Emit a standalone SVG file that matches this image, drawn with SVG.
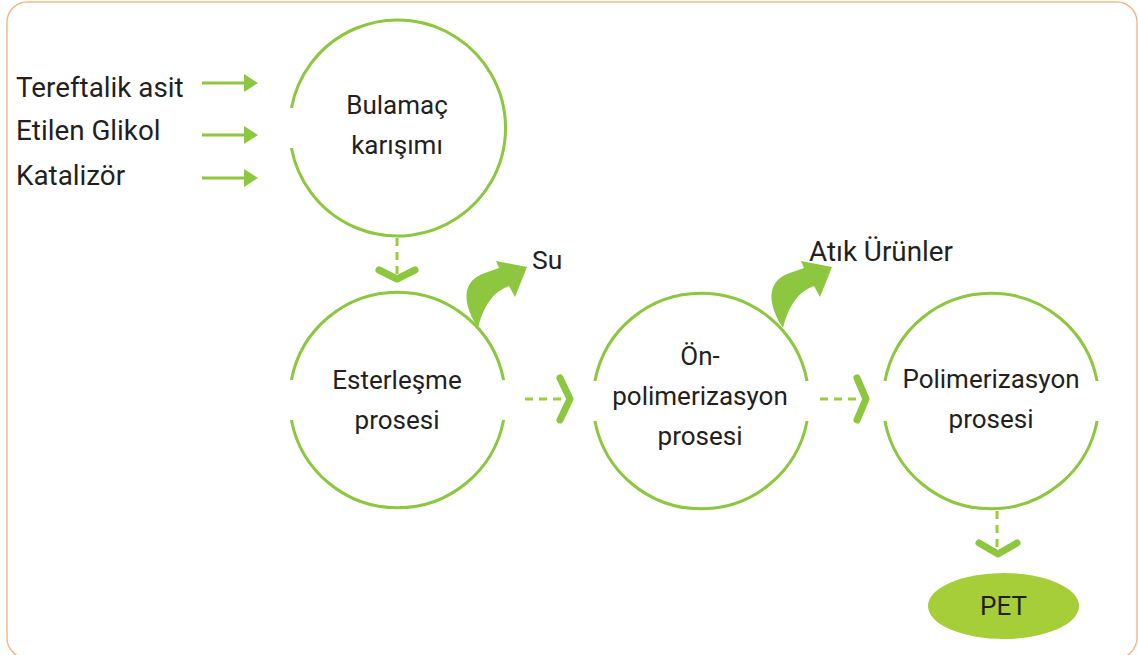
<svg xmlns="http://www.w3.org/2000/svg" xmlns:xlink="http://www.w3.org/1999/xlink" width="1138" height="655" viewBox="0 0 1138 655">
<style>
.t{font-family:Roboto,"Liberation Sans",sans-serif;fill:#231F20;}
.c{font-size:26px;text-anchor:middle;}
.l{font-size:27.8px;}
.ring{fill:none;stroke:#8DC63F;stroke-width:3;}
.dash{fill:none;stroke:#9CCB3B;stroke-width:3;stroke-dasharray:8 6;}
.chev{fill:none;stroke:#8DC63F;stroke-width:7;stroke-linecap:round;stroke-linejoin:round;}
.in{fill:none;stroke:#8DC63F;stroke-width:3;}
.blk{fill:#8DC63F;}
</style>
<defs>
<path id="bend" d="M478 328 C463 305 461 283 482 274 L499 268 L496 261 L527 267 L515 297 L509 286 C493 292 484 305 478 328 Z"/>
<marker id="ah" markerWidth="14" markerHeight="18" refX="1" refY="9" orient="auto" markerUnits="userSpaceOnUse">
<path d="M0 0 L14 9 L0 18 Z" fill="#8DC63F"/>
</marker>
</defs>
<rect x="7" y="2" width="1130" height="656" rx="20" ry="20" fill="#FFFFFF" stroke="#F8B98B" stroke-width="1.5"/>

<g id="inputs">
<text class="t l" x="16" y="97">Tereftalik asit</text>
<text class="t l" x="16" y="140">Etilen Glikol</text>
<text class="t l" x="16" y="185">Katalizör</text>
</g>

<g id="connectors">
<line class="in" x1="202" y1="83" x2="245" y2="83" marker-end="url(#ah)"/>
<line class="in" x1="202" y1="135" x2="245" y2="135" marker-end="url(#ah)"/>
<line class="in" x1="202" y1="178" x2="245" y2="178" marker-end="url(#ah)"/>
<line class="dash" x1="397" y1="238" x2="397" y2="276"/>
<polyline class="chev" points="379,270 397,279 415,270"/>
<line class="dash" x1="525" y1="399" x2="567" y2="399"/>
<polyline class="chev" points="560,378 570,399 560,420"/>
<line class="dash" x1="820" y1="399" x2="862" y2="399"/>
<polyline class="chev" points="857,378 866,399 857,420"/>
<line class="dash" x1="997" y1="511" x2="997" y2="549"/>
<polyline class="chev" points="979,543 998,554 1017,543"/>
</g>

<g id="bulamac">
<path class="ring" d="M291.4 108 A108 108 0 1 1 291.4 148"/>
<text class="t c" x="397" y="114">Bulamaç</text>
<text class="t c" x="397" y="154">karışımı</text>
</g>

<g id="esterlesme">
<path class="ring" d="M291.4 380 A108 108 0 0 1 503.6 380 M503.6 420 A108 108 0 0 1 291.4 420"/>
<text class="t c" x="397" y="389">Esterleşme</text>
<text class="t c" x="397" y="429">prosesi</text>
</g>

<g id="su">
<use xlink:href="#bend" class="blk"/>
<text class="t" x="532" y="269" font-size="26.5">Su</text>
</g>

<g id="onpolimerizasyon">
<path class="ring" d="M594.9 381 A108 108 0 0 1 807.1 381 M807.1 421 A108 108 0 0 1 594.9 421"/>
<text class="t c" x="700" y="365">Ön-</text>
<text class="t c" x="700" y="405">polimerizasyon</text>
<text class="t c" x="700" y="445">prosesi</text>
</g>

<g id="atik">
<use xlink:href="#bend" class="blk" transform="translate(305 0)"/>
<text class="t" x="809" y="261" font-size="27.8">Atık Ürünler</text>
</g>

<g id="polimerizasyon">
<path class="ring" d="M884.9 381 A108 108 0 0 1 1097.1 381 M1097.1 421 A108 108 0 0 1 884.9 421"/>
<text class="t c" x="991" y="388">Polimerizasyon</text>
<text class="t c" x="991" y="428">prosesi</text>
</g>

<g id="pet">
<ellipse cx="1003.5" cy="606" rx="75.5" ry="33" fill="#A6CE39"/>
<text class="t c" x="1003.5" y="615">PET</text>
</g>
</svg>
